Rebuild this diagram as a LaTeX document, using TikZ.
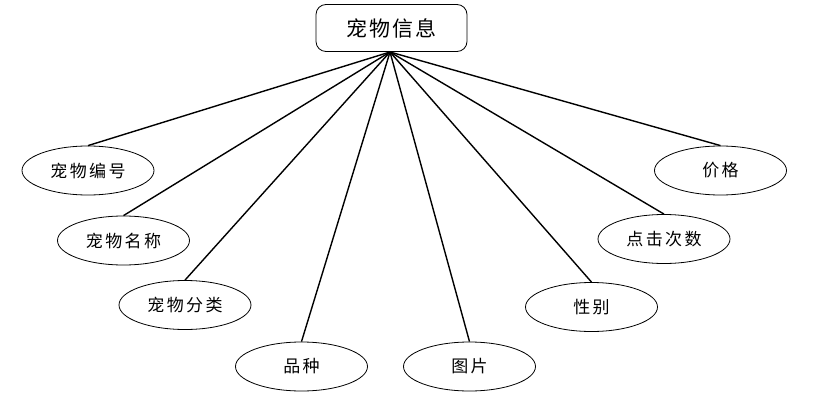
\documentclass[tikz,border=0pt]{standalone}
\usepackage{fontspec}
\newfontfamily\cjk{Noto Sans CJK SC}[LetterSpace=14]
\newfontfamily\cjkroot{Noto Sans CJK SC}[LetterSpace=8]
\usetikzlibrary{shapes.geometric}
\begin{document}
\begin{tikzpicture}[x=1pt,y=-1pt,
  attr/.style={draw,ellipse,line width=0.8pt,minimum width=132pt,minimum height=49pt,inner sep=0pt,font=\cjk\fontsize{17}{17}\selectfont},
  ent/.style={draw,rounded corners=10pt,line width=0.8pt,minimum width=151pt,minimum height=47pt,inner sep=0pt,font=\cjkroot\fontsize{21}{21}\selectfont},
  link/.style={line width=1.4pt}]
\useasboundingbox (0,0) rectangle (832,417);
\node[ent] (root) at (391.5,28) {宠物信息};
\coordinate (hub) at (390,52);
\node[attr] (a1) at (88,170.5) {宠物编号};
\node[attr] (a2) at (123.5,240.5) {宠物名称};
\node[attr] (a3) at (185,305) {宠物分类};
\node[attr] (a4) at (301.5,366.5) {品种};
\node[attr] (a5) at (469.5,366.5) {图片};
\node[attr] (a6) at (591.5,307) {性别};
\node[attr] (a7) at (664,239) {点击次数};
\node[attr] (a8) at (720.5,170.5) {价格};
\foreach \n in {a1,a2,a3,a4,a5,a6,a7,a8}
  \draw[link] (hub) -- (\n.north);
\end{tikzpicture}
\end{document}
